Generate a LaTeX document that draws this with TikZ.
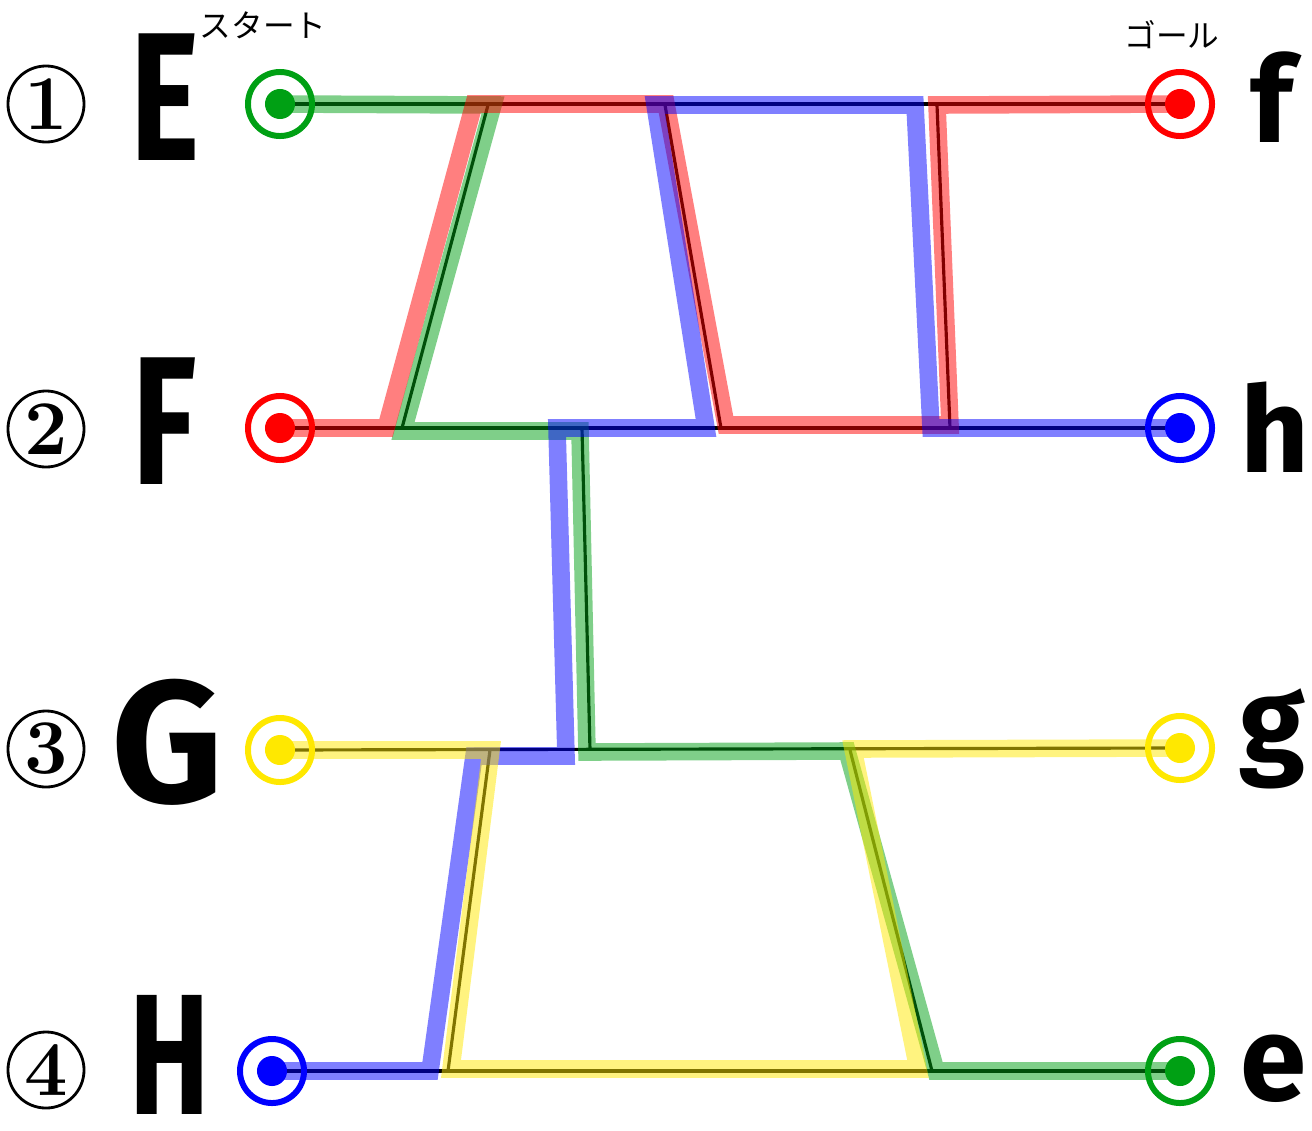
\documentclass[tikz,border=0pt]{standalone}
\usepackage{fontspec}
\usepackage{graphicx}
\newfontfamily\letterfont{Fira Sans}
\newfontfamily\jpfont{Noto Sans CJK JP}
\usetikzlibrary{backgrounds}
\definecolor{ladgreen}{RGB}{0,160,20}
\definecolor{ladred}{RGB}{255,0,0}
\definecolor{ladblue}{RGB}{0,0,255}
\definecolor{ladyellow}{RGB}{255,232,0}

\tikzset{
  stop/.style={circle, draw=#1, line width=1.7pt, minimum size=6.4mm, inner sep=0pt,
    path picture={\fill[#1] (path picture bounding box.center) circle (1.5mm);}},
  rail/.style={black, line width=0.9pt},
  trail/.style={#1, line width=5pt, opacity=0.5},
  numring/.style={circle, draw, line width=0.8pt, minimum size=7.6mm, inner sep=0pt,
    font=\fontsize{22}{22}\selectfont\bfseries},
  capital/.style={font=\letterfont\bfseries\fontsize{52}{52}\selectfont, inner sep=0pt, anchor=base},
  small/.style={font=\letterfont\bfseries\fontsize{34}{34}\selectfont, inner sep=0pt, anchor=base},
  jp/.style={font=\jpfont\fontsize{9}{9}\selectfont, inner sep=0pt}
}

\begin{document}
\begin{tikzpicture}[x=0.01cm, y=-0.01cm]
  \useasboundingbox (0,0) rectangle (1312,1130);

  % start and goal stops
  \node[stop=ladgreen] (sE) at (280,104) {};
  \node[stop=ladred] (sF) at (280,428) {};
  \node[stop=ladyellow] (sG) at (280,750) {};
  \node[stop=ladblue] (sH) at (272,1071) {};
  \node[stop=ladred] (gf) at (1180,104) {};
  \node[stop=ladblue] (gh) at (1180,428) {};
  \node[stop=ladyellow] (gg) at (1180,748) {};
  \node[stop=ladgreen] (ge) at (1180,1071) {};

  % rung ends
  \coordinate (a1) at (488,105); \coordinate (a2) at (402,428);
  \coordinate (b1) at (665,105); \coordinate (b2) at (721,428);
  \coordinate (c1) at (937,105); \coordinate (c2) at (950,428);
  \coordinate (d2) at (582,428); \coordinate (d3) at (590,750);
  \coordinate (p3) at (490,750); \coordinate (p4) at (448,1071);
  \coordinate (q3) at (850,750); \coordinate (q4) at (932,1071);

  \begin{scope}[on background layer]
    % the ladder
    \draw[rail] (sE.center) -- (gf.center);
    \draw[rail] (sF.center) -- (gh.center);
    \draw[rail] (sG.center) -- (gg.center);
    \draw[rail] (sH.center) -- (ge.center);
    \foreach \u/\v in {a1/a2, b1/b2, c1/c2, d2/d3, p3/p4, q3/q4}
      \draw[rail] (\u) -- (\v);

    % routes
    \draw[trail=ladgreen] (sE.center) -- (493,105) -- (403,431) -- (580,431)
      -- (587,752) -- (847,751) -- (936,1071) -- (ge.center);
    \draw[trail=ladred] (sF.center) -- (386,428) -- (474,104) -- (666,104)
      -- (726,425) -- (950,425) -- (937,105) -- (gf.center);
    \draw[trail=ladblue] (sH.center) -- (430,1071) -- (474,756) -- (566,756)
      -- (557,428) -- (706,428) -- (655,105) -- (915,105) -- (931,428) -- (gh.center);
    \draw[trail=ladyellow] (sG.center) -- (491,750) -- (451,1069) -- (918,1069)
      -- (853,749) -- (gg.center);
  \end{scope}

  % row numbers
  \node[numring] (n1) at (46,104) {1};
  \node[numring] (n2) at (46,429) {2};
  \node[numring] (n3) at (46,749) {3};
  \node[numring] (n4) at (46,1070) {4};

  % letters
  \node[capital] (lE) at (165,160) {\scalebox{0.72}[1]{E}};
  \node[capital] (lF) at (165,484) {\scalebox{0.72}[1]{F}};
  \node[capital] (lG) at (168,802) {\scalebox{0.95}{G}};
  \node[capital] (lH) at (170,1114) {\scalebox{0.66}[0.94]{H}};
  \node[small] (lf) at (1272,142) {f};
  \node[small] (lh) at (1275,472) {h};
  \node[small] (lg) at (1272,762) {g};
  \node[small] (le) at (1273,1100) {e};

  \node[jp] (start) at (263,25) {スタート};
  \node[jp] (goal) at (1172,35) {ゴール};
\end{tikzpicture}
\end{document}
